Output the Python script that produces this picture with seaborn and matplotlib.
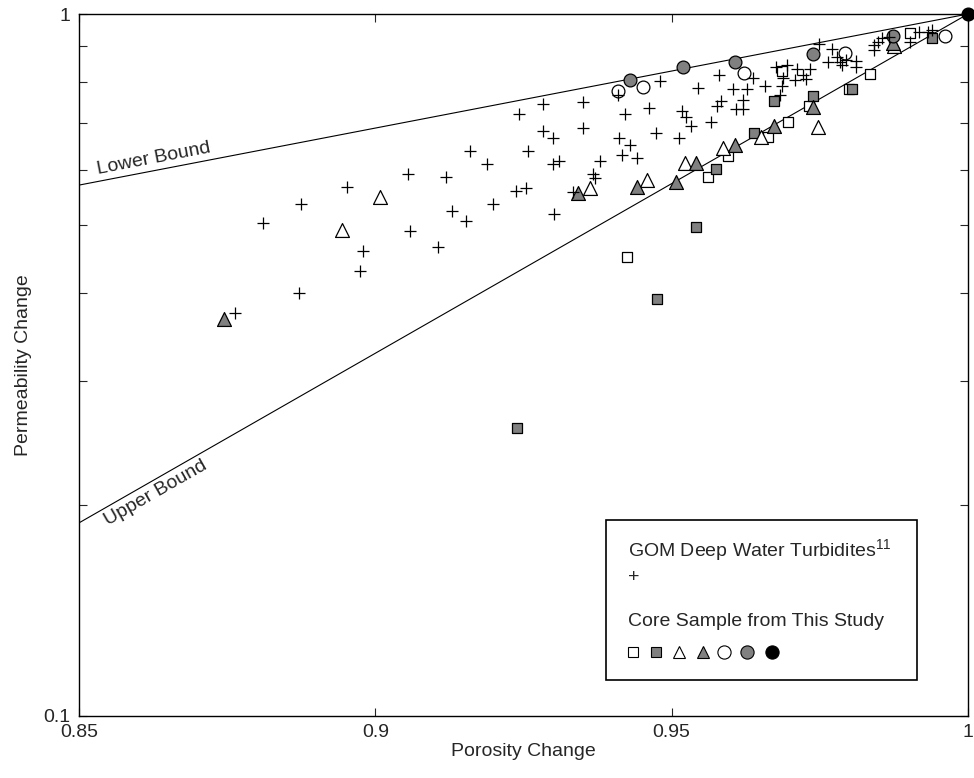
import numpy as np
import pandas as pd
import matplotlib
matplotlib.use("Agg")
import matplotlib.pyplot as plt
import matplotlib.ticker as mticker
import matplotlib.transforms as mtransforms
import seaborn as sns

# GOM deep water turbidites (porosity change, permeability change)
gom_phi = [0.8811, 0.8875, 0.8953, 0.9055, 0.9059, 0.8979, 0.8974, 0.8872, 0.8764,
           0.9120, 0.9160, 0.9188, 0.9198, 0.9130, 0.9153, 0.9105,
           0.9283, 0.9351, 0.9242, 0.9283, 0.9299, 0.9351, 0.9258, 0.9299, 0.9310,
           0.9379, 0.9237, 0.9254, 0.9367, 0.9371, 0.9333, 0.9301,
           0.9410, 0.9481, 0.9544, 0.9580, 0.9603, 0.9627, 0.9638, 0.9658,
           0.9422, 0.9461, 0.9517, 0.9524, 0.9533, 0.9566, 0.9584, 0.9577, 0.9620,
           0.9608, 0.9621, 0.9411, 0.9430, 0.9473, 0.9513, 0.9416, 0.9442,
           0.9676, 0.9694, 0.9712, 0.9733, 0.9722, 0.9688, 0.9708, 0.9726, 0.9686, 0.9683,
           0.9749, 0.9770, 0.9763, 0.9779, 0.9784, 0.9787, 0.9794, 0.9811, 0.9811,
           0.9842, 0.9849, 0.9855, 0.9866, 0.9841, 0.9902, 0.9918, 0.9932, 0.9939, 1.0]
gom_k = [0.5032, 0.5362, 0.5675, 0.5916, 0.4911, 0.4601, 0.4307, 0.4000, 0.3747,
         0.5853, 0.6387, 0.6109, 0.5358, 0.5244, 0.5070, 0.4652,
         0.7437, 0.7501, 0.7197, 0.6820, 0.6652, 0.6881, 0.6387, 0.6107, 0.6174,
         0.6174, 0.5596, 0.5656, 0.5910, 0.5833, 0.5583, 0.5188,
         0.7668, 0.8027, 0.7838, 0.8174, 0.7825, 0.7825, 0.8099, 0.7897,
         0.7192, 0.7340, 0.7276, 0.7122, 0.6926, 0.7017, 0.7518, 0.7396, 0.7542,
         0.7323, 0.7323, 0.6659, 0.6514, 0.6769, 0.6652, 0.6303, 0.6229,
         0.8404, 0.8446, 0.8350, 0.8350, 0.8188, 0.8099, 0.8054, 0.8067, 0.7897, 0.7655,
         0.9069, 0.8928, 0.8545, 0.8686, 0.8531, 0.8459, 0.8601, 0.8573, 0.8413,
         0.9034, 0.9132, 0.9234, 0.9264, 0.8887, 0.9132, 0.9427, 0.9436, 0.9489, 1.0]

# Core samples from this study, one pair of lists per sample
open_sq_phi = [0.9424, 0.9561, 0.9595, 0.9663, 0.9697, 0.9731, 0.9799, 0.9834, 0.9902, 0.9686]
open_sq_k = [0.4501, 0.5864, 0.6276, 0.6674, 0.7024, 0.7396, 0.7812, 0.8206, 0.9387, 0.8295]

gray_sq_phi = [0.9239, 0.9475, 0.9541, 0.9575, 0.9639, 0.9673, 0.9739, 0.9804, 0.9939]
gray_sq_k = [0.2572, 0.3929, 0.4966, 0.6013, 0.6762, 0.7525, 0.7650, 0.7812, 0.9234]

open_tri_phi = [0.8943, 0.9008, 0.9362, 0.9458, 0.9522, 0.9586, 0.9651, 0.9747, 0.9875]
open_tri_k = [0.4923, 0.5481, 0.5645, 0.5801, 0.6127, 0.6438, 0.6681, 0.6910, 0.9004]

gray_tri_phi = [0.8745, 0.9342, 0.9441, 0.9507, 0.9541, 0.9607, 0.9673, 0.9739, 0.9873]
gray_tri_k = [0.3681, 0.5565, 0.5669, 0.5769, 0.6143, 0.6508, 0.6926, 0.7364, 0.9093]

open_circ_phi = [0.9409, 0.9452, 0.9622, 0.9792, 0.9962]
open_circ_k = [0.7769, 0.7879, 0.8249, 0.8800, 0.9304]

gray_circ_phi = [0.9430, 0.9519, 0.9607, 0.9739, 0.9873]
gray_circ_k = [0.8054, 0.8413, 0.8553, 0.8766, 0.9313]

black_circ_phi = [1.0]
black_circ_k = [1.0]

# Bounding trends: end points (porosity change, permeability change)
lower_phi = [0.85, 1.0]
lower_k = [0.5705, 1.0]
upper_phi = [0.85, 1.0]
upper_k = [0.1884, 1.0]

x_ticks = [0.85, 0.9, 0.95, 1.0]
x_tick_labels = ["0.85", "0.9", "0.95", "1"]
y_ticks = [0.1, 1.0]
y_tick_labels = ["0.1", "1"]

sns.set_style("ticks")
plt.rcParams["font.family"] = ["Liberation Sans", "DejaVu Sans"]
plt.rcParams["mathtext.default"] = "regular"

fig = plt.figure(figsize=(9.74, 7.78), dpi=100)
ax = fig.add_axes([0.0811, 0.0797, 0.9127, 0.9023])
ax.set_yscale("log")
ax.set_xlim(0.85, 1.0)
ax.set_ylim(0.1, 1.0)

GRAY = "#808080"

# Bound lines
sns.lineplot(x=lower_phi, y=lower_k, color="black", linewidth=0.8, ax=ax)
sns.lineplot(x=upper_phi, y=upper_k, color="black", linewidth=0.8, ax=ax)

core_series = [
    (open_sq_phi, open_sq_k, "s", "white", 56),
    (gray_sq_phi, gray_sq_k, "s", GRAY, 56),
    (open_tri_phi, open_tri_k, "^", "white", 100),
    (gray_tri_phi, gray_tri_k, "^", GRAY, 100),
    (open_circ_phi, open_circ_k, "o", "white", 85),
    (gray_circ_phi, gray_circ_k, "o", GRAY, 85),
    (black_circ_phi, black_circ_k, "o", "black", 85),
]
for phi, k, mk, fc, size in core_series:
    sns.scatterplot(x=phi, y=k, marker=mk, color=fc, edgecolor="black",
                    linewidth=0.9, s=size, ax=ax, clip_on=False, zorder=3)

sns.scatterplot(x=gom_phi, y=gom_k, marker="+", color="black", s=80,
                linewidth=0.9, ax=ax, clip_on=False, zorder=4)

# Axes styling
ax.set_xticks(x_ticks)
ax.set_xticklabels(x_tick_labels)
ax.yaxis.set_major_locator(mticker.FixedLocator(y_ticks))
ax.yaxis.set_major_formatter(mticker.FixedFormatter(y_tick_labels))
ax.yaxis.set_minor_locator(mticker.LogLocator(base=10, subs=np.arange(2, 10)))
ax.yaxis.set_minor_formatter(mticker.NullFormatter())
ax.tick_params(which="both", direction="in", top=True, right=True,
               length=5.5, width=0.8, labelsize=14, pad=6)
for sp in ax.spines.values():
    sp.set_linewidth(1.0)
    sp.set_color("black")
ax.set_xlabel("Porosity Change", fontsize=14, labelpad=1)
ax.set_ylabel("Permeability Change", fontsize=14, labelpad=8)


def along(phi_pts, k_pts, x_at):
    lx = np.log10(k_pts)
    ly = lx[0] + (x_at - phi_pts[0]) / (phi_pts[1] - phi_pts[0]) * (lx[1] - lx[0])
    p0 = ax.transData.transform((phi_pts[0], k_pts[0]))
    p1 = ax.transData.transform((phi_pts[1], k_pts[1]))
    ang = np.degrees(np.arctan2(p1[1] - p0[1], p1[0] - p0[0]))
    return 10 ** ly, ang


kl, al = along(lower_phi, lower_k, 0.8535)
rad = np.radians(al)
tr = mtransforms.offset_copy(ax.transData, fig=fig, x=-np.sin(rad) * 2, y=np.cos(rad) * 2, units="points")
ax.text(0.8535, kl, "Lower Bound", rotation=al, rotation_mode="anchor",
        ha="left", va="bottom", fontsize=14, transform=tr)

ku, au = along(upper_phi, upper_k, 0.8535)
rad = np.radians(au)
tr = mtransforms.offset_copy(ax.transData, fig=fig, x=np.sin(rad) * 3, y=-np.cos(rad) * 3, units="points")
ax.text(0.8535, ku, "Upper Bound", rotation=au, rotation_mode="anchor",
        ha="left", va="top", fontsize=14, transform=tr)

# Key box
box = plt.Rectangle((0.5928, 0.0513), 0.3498, 0.2279, transform=ax.transAxes,
                    facecolor="white", edgecolor="black", linewidth=1.2, zorder=5)
ax.add_patch(box)
ax.text(0.6175, 0.2365, "GOM Deep Water Turbidites$^{11}$", transform=ax.transAxes,
        fontsize=14, ha="left", va="center", zorder=6)
ax.text(0.6175, 0.1966, "+", transform=ax.transAxes, fontsize=14,
        ha="left", va="center", zorder=6)
ax.text(0.6175, 0.1353, "Core Sample from This Study", transform=ax.transAxes,
        fontsize=14, ha="left", va="center", zorder=6)
key_x = [0.6232, 0.6490, 0.6749, 0.7019, 0.7255, 0.7514, 0.7795]
key_style = [("s", "white", 6.5), ("s", GRAY, 6.5), ("^", "white", 8), ("^", GRAY, 8),
             ("o", "white", 9.5), ("o", GRAY, 9.5), ("o", "black", 9.5)]
for xk, (mk, fc, ms) in zip(key_x, key_style):
    ax.plot([xk], [0.0912], marker=mk, markersize=ms, markerfacecolor=fc,
            markeredgecolor="black", markeredgewidth=0.8, linestyle="none",
            transform=ax.transAxes, zorder=6)

fig.savefig("out.png", dpi=100)
